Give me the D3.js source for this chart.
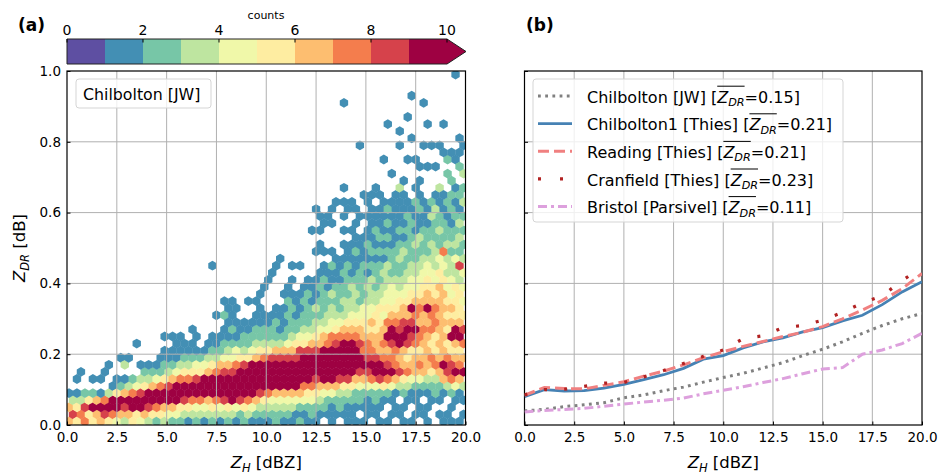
<!DOCTYPE html>
<html>
<head>
<meta charset="utf-8">
<script src="https://cdn.jsdelivr.net/npm/d3@7"></script>
<style>
  body { margin: 0; background: #fff; }
</style>
</head>
<body>
<div class="chart__container"></div>
<script>
/*-------------------------------------INIT-------------------------------------*/

const CHART__WIDTH = 941;
const CHART__HEIGHT = 475;
const FONT = '"DejaVu Sans", sans-serif';

const PANEL_A = { left: 67, right: 465.5, top: 71, bottom: 425 };
const PANEL_B = { left: 524.5, right: 922, top: 71, bottom: 425 };

// hexbin (a): one string per 0.4 dBZ column of Z_H, read bottom (Z_DR = 0) to top
// in 0.02 dB rows. '.' = empty, '1'..'9' = colour bin (counts 1-2 ... >=9)
const HEX_COLUMNS = [
    "68631",
    "57531.11",
    "75852",
    "56962.1",
    "68971.11",
    "579931..1",
    "4699521..1",
    "3689631.31",
    "5599742... .1",
    "469985321",
    "358996321",
    "2579974211",
    "3469985321 1.1",
    "2469996421 111",
    "2358997532 111",
    "1357997532 11.1",
    "2347998542 1.1",
    "1346999643 11",
    "2357999753 211..1.... ..1",
    "1348999864 2211.2.1",
    "2359999864 32121111",
    "1248999975 42111.1",
    "2357999985 32211..1",
    "1246999996 432211.1",
    "1235899997 5322111.11",
    "1234799998 532211.... 11",
    "2234699998 6321211... ..11",
    "1234699998 6422121211",
    "1134699998 653221211. 1.1",
    "2124679999 8543221211 ..1",
    "1224579999 8643222121 1......1",
    "1123568999 8654323212 11..11.1.1 1",
    ".122469999 9764332221 211.1...11",
    "1112469999 9875433232 11211...1. 11",
    ".122358999 9976432322 1211.1.1.1 .1.1...... .....1",
    "1112358999 9976543323 212111.1.. 11",
    "1.12246899 9876543232 2211211.11 1........1",
    "1111246898 7765544323 21211211.1 .11",
    ".112247998 7665654332 3221211211 1.11",
    "1.11258997 6766545433 2321212111 111....1",
    "11.1247987 6899765444 3232212121 21...1.... ..1",
    ".11.136876 7998765543 3223221211 1113.....1 .1",
    "1.11235765 6899866544 3322321212 111.1..1.. ...1",
    "11.1124666 5789879654 4332232121 12.1...1.. 1.....1",
    ".11.124676 5677667655 4433223211 211.1.1..1 .....1",
    "1.11123567 6567679665 5443232213 12....1..1 ..1",
    ".1.1223676 5656767656 4534322322 3113..1..1",
    "11..136897 6565656564 5343732221 121..2.21. ..1",
    "1.11247986 5699656545 4334232212 21212..11. .........1",
    "11.1136976 5798655454 3483223232 1322.32.11 1"
];

const COUNT_TICKS = [0, 2, 4, 6, 8, 10];
const X_TICKS = [0, 2.5, 5, 7.5, 10, 12.5, 15, 17.5, 20];
const Y_TICKS = [0, 0.2, 0.4, 0.6, 0.8, 1.0];

// panel (b): mean Z_DR against Z_H
const ZH = [0, 1, 2, 3, 4, 5, 6, 7, 8, 9, 10, 11, 12, 13, 14, 15, 16, 17, 18, 19, 20];
const CHILBOLTON_JW = [0.040, 0.044, 0.052, 0.057, 0.063, 0.077, 0.085, 0.097, 0.107, 0.121, 0.134,
    0.146, 0.161, 0.176, 0.196, 0.214, 0.235, 0.259, 0.281, 0.300, 0.315];
const CHILBOLTON1 = [0.080, 0.100, 0.096, 0.097, 0.104, 0.115, 0.128, 0.142, 0.160, 0.186, 0.196,
    0.218, 0.235, 0.246, 0.263, 0.275, 0.294, 0.310, 0.340, 0.376, 0.405];
const READING = [0.084, 0.106, 0.103, 0.102, 0.112, 0.122, 0.138, 0.152, 0.170, 0.190, 0.207,
    0.222, 0.236, 0.250, 0.262, 0.278, 0.300, 0.325, 0.352, 0.385, 0.428];
const CRANFIELD = [0.085, 0.100, 0.101, 0.109, 0.118, 0.120, 0.136, 0.154, 0.174, 0.194, 0.212,
    0.244, 0.252, 0.275, 0.281, 0.296, 0.318, 0.345, 0.365, 0.408, 0.445];
const BRISTOL = [0.037, 0.041, 0.044, 0.047, 0.053, 0.059, 0.065, 0.070, 0.076, 0.088, 0.098,
    0.108, 0.120, 0.131, 0.145, 0.158, 0.162, 0.200, 0.212, 0.230, 0.259];

const SERIES_NAMES = ["Chilbolton [JW] ", "Chilbolton1 [Thies] ", "Reading [Thies] ",
    "Cranfield [Thies] ", "Bristol [Parsivel] "];
const SERIES_MEANS = ["0.15", "0.21", "0.21", "0.23", "0.11"];

const SERIES_STYLE = [
    { color: "#808080", width: 3, dash: "2.8,4.4" },
    { color: "#4682b4", width: 2.8, dash: null },
    { color: "#f08080", width: 3, dash: "11,5" },
    { color: "#b22222", width: 3.2, dash: "3,17.2" },
    { color: "#dda0dd", width: 3, dash: "9,4,3,4" }
];

// 10 discrete Spectral_r colours
const PALETTE = d3.range(10).map(i => d3.interpolateSpectral(1 - i / 9));


/*-------------------------------------Graph-------------------------------------*/

const SVG = d3.select(".chart__container").append("svg")
    .attr("width", CHART__WIDTH)
    .attr("height", CHART__HEIGHT)
    .style("font-family", FONT);

const xA = d3.scaleLinear().domain([0, 20]).range([PANEL_A.left, PANEL_A.right]);
const yA = d3.scaleLinear().domain([0, 1]).range([PANEL_A.bottom, PANEL_A.top]);
const xB = d3.scaleLinear().domain([0, 20]).range([PANEL_B.left, PANEL_B.right]);
const yB = d3.scaleLinear().domain([0, 1]).range([PANEL_B.bottom, PANEL_B.top]);

const defs = SVG.append("defs");
[["clipA", PANEL_A], ["clipB", PANEL_B]].forEach(([id, p]) => {
    defs.append("clipPath").attr("id", id).append("rect")
        .attr("x", p.left).attr("y", p.top)
        .attr("width", p.right - p.left).attr("height", p.bottom - p.top);
});

//Hexbin cells

const cells = [];
HEX_COLUMNS.forEach((col, c) => {
    col.replace(/ /g, "").split("").forEach((ch, r) => {
        if (ch === ".") return;
        cells.push({ zh: 0.4 * c + (r % 2 ? 0.3 : 0.1), zdr: 0.02 * r + 0.01, bin: +ch });
    });
});

const hexW = xA(0.4) - xA(0);
const hexR = (yA(0) - yA(0.02)) / 1.5;
const hw = hexW / 2 + 0.2, hr = hexR + 0.2;
const hexPath = `M0,${-hr}L${hw},${-hr / 2}L${hw},${hr / 2}L0,${hr}L${-hw},${hr / 2}L${-hw},${-hr / 2}Z`;

SVG.append("g").attr("clip-path", "url(#clipA)")
    .selectAll("path").data(cells).join("path")
    .attr("d", hexPath)
    .attr("transform", d => `translate(${xA(d.zh)},${yA(d.zdr)})`)
    .attr("fill", d => PALETTE[d.bin]);

//Grid, ticks, frames

function drawAxes(p, x, y, showYLabels) {
    const grid = SVG.append("g").attr("stroke", "#b0b0b0").attr("stroke-width", 1);
    grid.selectAll(".gx").data(X_TICKS.slice(1, -1)).join("line")
        .attr("x1", d => x(d)).attr("x2", d => x(d)).attr("y1", p.top).attr("y2", p.bottom);
    grid.selectAll(".gy").data(Y_TICKS.slice(1, -1)).join("line")
        .attr("x1", p.left).attr("x2", p.right).attr("y1", d => y(d)).attr("y2", d => y(d));

    const xAxis = SVG.append("g").attr("transform", `translate(0,${p.bottom})`)
        .call(d3.axisBottom(x).tickValues(X_TICKS).tickSizeInner(-3.5).tickSizeOuter(0)
            .tickPadding(7).tickFormat(d3.format(".1f")));
    const yAxis = SVG.append("g").attr("transform", `translate(${p.left},0)`)
        .call(d3.axisLeft(y).tickValues(Y_TICKS).tickSizeInner(-3.5).tickSizeOuter(0)
            .tickPadding(6).tickFormat(showYLabels ? d3.format(".1f") : () => ""));
    [xAxis, yAxis].forEach(a => {
        a.select(".domain").remove();
        a.selectAll("line").attr("stroke", "#000").attr("stroke-width", 1);
        a.selectAll("text").attr("fill", "#000").style("font-family", FONT).style("font-size", "13.5px");
    });

    SVG.append("rect").attr("x", p.left).attr("y", p.top)
        .attr("width", p.right - p.left).attr("height", p.bottom - p.top)
        .attr("fill", "none").attr("stroke", "#000").attr("stroke-width", 1.2);
}

drawAxes(PANEL_A, xA, yA, true);

//Lines (b)

const seriesData = [CHILBOLTON_JW, CHILBOLTON1, READING, CRANFIELD, BRISTOL];
const line = d3.line().x((d, i) => xB(ZH[i])).y(d => yB(d));

const linesG = SVG.append("g").attr("clip-path", "url(#clipB)");
drawAxes(PANEL_B, xB, yB, false);
SVG.node().appendChild(linesG.node());

seriesData.forEach((vals, i) => {
    const s = SERIES_STYLE[i];
    linesG.append("path").datum(vals)
        .attr("d", line)
        .attr("fill", "none")
        .attr("stroke", s.color)
        .attr("stroke-width", s.width)
        .attr("stroke-dasharray", s.dash);
});

//Colorbar

const xC = d3.scaleLinear().domain([0, 10]).range([PANEL_A.left, 447]);
const CB_TOP = 39, CB_BOT = 64, CB_TIP = 466;

SVG.append("g").selectAll("rect").data(d3.range(10)).join("rect")
    .attr("x", d => xC(d)).attr("y", CB_TOP)
    .attr("width", d => xC(d + 1) - xC(d) + 0.4).attr("height", CB_BOT - CB_TOP)
    .attr("fill", d => PALETTE[d]);
SVG.append("path")
    .attr("d", `M${xC(10)},${CB_TOP}L${CB_TIP},${(CB_TOP + CB_BOT) / 2}L${xC(10)},${CB_BOT}Z`)
    .attr("fill", PALETTE[9]);
SVG.append("path")
    .attr("d", `M${xC(0)},${CB_TOP}H${xC(10)}L${CB_TIP},${(CB_TOP + CB_BOT) / 2}L${xC(10)},${CB_BOT}H${xC(0)}Z`)
    .attr("fill", "none").attr("stroke", "#222").attr("stroke-width", 1);
SVG.append("g").selectAll("line").data(COUNT_TICKS).join("line")
    .attr("x1", d => xC(d)).attr("x2", d => xC(d))
    .attr("y1", CB_TOP).attr("y2", CB_TOP + 3.5)
    .attr("stroke", "#000").attr("stroke-width", 1);
SVG.append("g").selectAll("text").data(COUNT_TICKS).join("text")
    .attr("x", d => xC(d)).attr("y", 35)
    .attr("text-anchor", "middle").style("font-size", "14px")
    .text(d => d);
SVG.append("text").attr("x", 266).attr("y", 19)
    .attr("text-anchor", "middle").style("font-size", "11px").text("counts");

//Titles and labels

SVG.append("text").attr("x", 18).attr("y", 31).style("font-size", "17px")
    .style("font-weight", "bold").text("(a)");
SVG.append("text").attr("x", 526).attr("y", 31).style("font-size", "17px")
    .style("font-weight", "bold").text("(b)");

function mathLabel(x, y, sub, rest, rotate) {
    const t = SVG.append("text")
        .attr("text-anchor", "middle")
        .attr("transform", `translate(${x},${y})` + (rotate ? " rotate(-90)" : ""))
        .style("font-size", "16.5px");
    t.append("tspan").style("font-style", "italic").text("Z");
    t.append("tspan").style("font-style", "italic").style("font-size", "11.5px")
        .attr("dy", 3.5).text(sub);
    t.append("tspan").attr("dy", -3.5).text(" " + rest);
}

mathLabel((PANEL_A.left + PANEL_A.right) / 2, 468, "H", "[dBZ]", false);
mathLabel((PANEL_B.left + PANEL_B.right) / 2, 468, "H", "[dBZ]", false);
mathLabel(25, 248, "DR", "[dB]", true);

//Legend (a)

SVG.append("rect").attr("x", 76).attr("y", 79).attr("width", 135).attr("height", 29)
    .attr("rx", 3).attr("fill", "#fff").attr("fill-opacity", 0.8)
    .attr("stroke", "#d5d5d5").attr("stroke-width", 1);
SVG.append("text").attr("x", 83).attr("y", 99.5).style("font-size", "15.8px")
    .text("Chilbolton [JW]");

//Legend (b)

const LEG = { x: 533, y: 79, w: 310, h: 143, row0: 96, step: 27.6 };
SVG.append("rect").attr("x", LEG.x).attr("y", LEG.y).attr("width", LEG.w).attr("height", LEG.h)
    .attr("rx", 3).attr("fill", "#fff").attr("fill-opacity", 0.8)
    .attr("stroke", "#d5d5d5").attr("stroke-width", 1);

SERIES_NAMES.forEach((name, i) => {
    const cy = LEG.row0 + i * LEG.step;
    const s = SERIES_STYLE[i];
    SVG.append("line").attr("x1", 538).attr("x2", 572).attr("y1", cy).attr("y2", cy)
        .attr("stroke", s.color).attr("stroke-width", s.width)
        .attr("stroke-dasharray", i === 3 ? "3,19" : s.dash);

    const fs = 16;
    const base = cy + 6.7;
    const t = SVG.append("text").attr("x", 587).attr("y", base).style("font-size", fs + "px");
    t.append("tspan").text(name + "[");
    t.append("tspan").style("font-style", "italic").text("Z");
    t.append("tspan").style("font-style", "italic").style("font-size", (fs * 0.7) + "px")
        .attr("dy", fs * 0.22).text("DR");
    t.append("tspan").attr("dy", -fs * 0.22).text("=" + SERIES_MEANS[i] + "]");

    const n = name.length + 1;
    const node = t.node();
    const x0 = node.getStartPositionOfChar(n).x;
    const x1 = node.getEndPositionOfChar(n + 2).x;
    SVG.append("line").attr("x1", x0).attr("x2", x1)
        .attr("y1", base - 16.5).attr("y2", base - 16.5)
        .attr("stroke", "#000").attr("stroke-width", 1);
});
</script>
</body>
</html>
